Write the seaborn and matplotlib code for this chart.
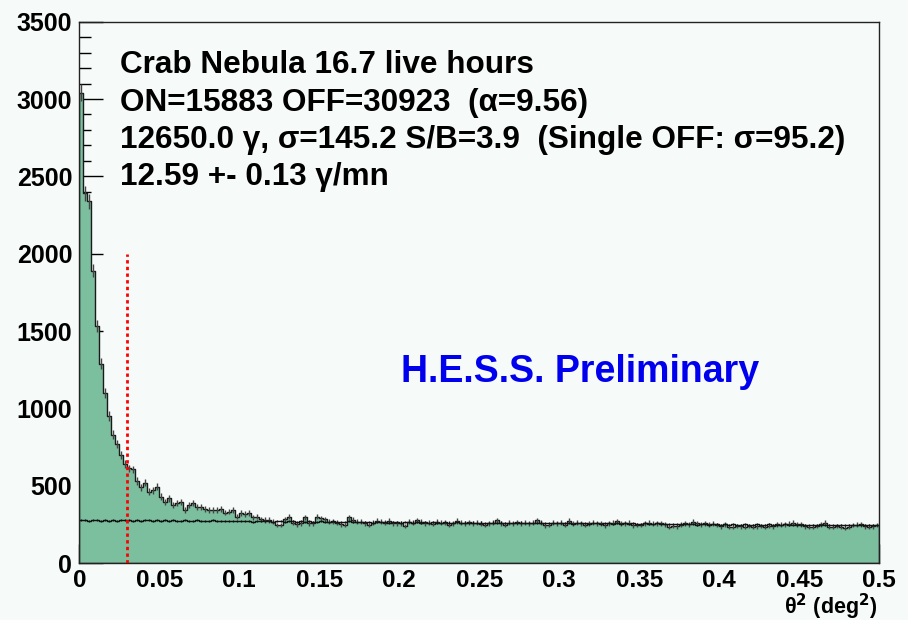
import numpy as np
import pandas as pd
import matplotlib
matplotlib.use("Agg")
import matplotlib.pyplot as plt
import seaborn as sns

# theta^2 binning: 200 bins of 0.0025 deg^2 from 0 to 0.5
bin_width = 0.0025
n_bins = 200

# ON-region counts per bin
on_counts = [
    3040, 2390, 2340, 1890, 1530, 1290, 1100, 950, 830, 770,
    700, 640, 612, 605, 530, 490, 520, 462, 470, 494,
    430, 396, 418, 376, 386, 396, 344, 376, 390, 365,
    365, 348, 344, 344, 344, 348, 326, 332, 344, 300,
    322, 317, 322, 295, 300, 283, 278, 278, 267, 246,
    246, 283, 300, 261, 252, 257, 295, 257, 257, 300,
    289, 283, 267, 267, 261, 252, 246, 295, 278, 267,
    267, 257, 246, 261, 274, 267, 261, 274, 257, 257,
    257, 239, 267, 262, 275, 268, 258, 262, 255, 266,
    260, 262, 248, 258, 272, 262, 256, 264, 258, 262,
    254, 246, 258, 262, 276, 258, 248, 262, 258, 264,
    256, 262, 258, 262, 276, 262, 244, 246, 260, 258,
    262, 248, 274, 258, 262, 256, 246, 258, 262, 256,
    258, 244, 256, 262, 270, 258, 256, 262, 244, 246,
    246, 258, 262, 254, 258, 256, 252, 236, 240, 238,
    248, 258, 252, 266, 256, 252, 258, 250, 254, 246,
    238, 252, 236, 234, 240, 238, 236, 240, 236, 238,
    240, 236, 242, 238, 250, 248, 252, 254, 262, 252,
    250, 238, 232, 236, 240, 252, 262, 236, 232, 240,
    236, 228, 236, 246, 248, 250, 238, 236, 238, 246,
]

# normalised OFF-region counts per bin
off_counts = [
    276, 280, 274, 278, 276, 272, 278, 274, 276, 272,
    278, 276, 280, 274, 276, 270, 276, 278, 274, 276,
    274, 276, 272, 276, 270, 274, 276, 272, 274, 276,
    270, 274, 272, 276, 274, 270, 272, 274, 270, 272,
    274, 270, 272, 268, 272, 270, 274, 270, 268, 272,
    270, 268, 272, 270, 266, 270, 268, 272, 268, 266,
    270, 268, 266, 270, 264, 268, 266, 270, 264, 268,
    266, 264, 268, 262, 266, 264, 268, 262, 264, 266,
    262, 266, 264, 262, 266, 262, 264, 260, 264, 262,
    260, 264, 262, 260, 264, 258, 262, 260, 262, 258,
    262, 258, 260, 262, 258, 262, 258, 260, 256, 260,
    262, 258, 260, 256, 260, 262, 258, 256, 260, 258,
    256, 260, 258, 254, 258, 256, 260, 254, 258, 256,
    254, 258, 256, 254, 258, 254, 256, 252, 256, 254,
    252, 256, 254, 252, 256, 252, 254, 250, 254, 252,
    250, 254, 250, 252, 248, 252, 250, 248, 252, 250,
    248, 250, 246, 250, 248, 246, 250, 248, 246, 250,
    246, 248, 250, 246, 248, 246, 250, 248, 246, 248,
    246, 248, 244, 248, 246, 244, 248, 246, 244, 248,
    246, 244, 246, 248, 244, 246, 244, 248, 246, 244,
]

theta2_cut = 0.03
cut_height = 2000

x_ticks = [0, 0.05, 0.1, 0.15, 0.2, 0.25, 0.3, 0.35, 0.4, 0.45, 0.5]
x_tick_labels = ["0", "0.05", "0.1", "0.15", "0.2", "0.25", "0.3", "0.35", "0.4", "0.45", "0.5"]
y_ticks = [0, 500, 1000, 1500, 2000, 2500, 3000, 3500]

info_lines = [
    "Crab Nebula 16.7 live hours",
    "ON=15883 OFF=30923  (\u03b1=9.56)",
    "12650.0 \u03b3, \u03c3=145.2 S/B=3.9  (Single OFF: \u03c3=95.2)",
    "12.59 +- 0.13 \u03b3/mn",
]

bg = "#f6faf8"
fill_green = "#7cbf9e"

sns.set_style("ticks")
plt.rcParams["font.family"] = ["Liberation Sans", "DejaVu Sans"]
plt.rcParams["font.weight"] = "bold"
plt.rcParams["xtick.color"] = "black"
plt.rcParams["ytick.color"] = "black"
plt.rcParams["xtick.labelcolor"] = "black"
plt.rcParams["ytick.labelcolor"] = "black"
plt.rcParams["text.color"] = "black"

edges = np.linspace(0, n_bins * bin_width, n_bins + 1)
centers = 0.5 * (edges[:-1] + edges[1:])
df = pd.DataFrame({"theta2": centers, "on": on_counts, "off": off_counts})

fig = plt.figure(figsize=(9.08, 6.2), dpi=100, facecolor=bg)
ax = fig.add_axes([0.0873, 0.0919, 0.8811, 0.8731], facecolor=bg)

# ON histogram: filled steps with sqrt(N) error ticks
sns.histplot(data=df, x="theta2", weights="on", binwidth=bin_width,
             binrange=(0, n_bins * bin_width), element="step",
             fill=True, color=fill_green, alpha=1.0, edgecolor="#1a1a1a",
             linewidth=1.0, ax=ax)
ax.errorbar(df["theta2"], df["on"], yerr=np.sqrt(df["on"]), fmt="none",
            ecolor="#444444", elinewidth=1.0, zorder=3)

# OFF histogram: open steps
sns.histplot(data=df, x="theta2", weights="off", binwidth=bin_width,
             binrange=(0, n_bins * bin_width), element="step",
             fill=False, color="#111111", linewidth=1.0, ax=ax)
ax.errorbar(df["theta2"], df["off"], yerr=0.4 * np.sqrt(df["off"]), fmt="none",
            ecolor="#111111", elinewidth=0.9, zorder=4)

# theta^2 cut
ax.plot([theta2_cut, theta2_cut], [0, cut_height], color="#ff0000",
        linestyle=(0, (1.2, 1.2)), linewidth=2.0, zorder=5)

ax.set_xlim(0, 0.5)
ax.set_ylim(0, 3500)
ax.set_xticks(x_ticks)
ax.set_xticklabels(x_tick_labels)
ax.set_yticks(y_ticks)
ax.set_xticks(np.arange(0, 0.5001, 0.01), minor=True)
ax.set_yticks(np.arange(0, 3501, 100), minor=True)
ax.set_xlabel("")
ax.set_ylabel("")

ax.tick_params(axis="y", which="major", direction="in", length=17, width=1,
               labelsize=18, pad=5, right=False, colors="black")
ax.tick_params(axis="y", which="minor", direction="in", length=8.6, width=1,
               right=False, colors="black")
ax.tick_params(axis="x", which="major", direction="in", length=13.7, width=1,
               labelsize=17.5, pad=4, top=False, colors="black")
ax.tick_params(axis="x", which="minor", direction="in", length=6.5, width=1,
               top=False, colors="black")

for s in ax.spines.values():
    s.set_visible(True)
    s.set_color("#222222")
    s.set_linewidth(1.0)

for i, line in enumerate(info_lines):
    fig.text(120 / 908, 1 - (73 + 37.5 * i) / 620, line, fontsize=22.7,
             fontweight="bold", color="black", ha="left", va="baseline")

fig.text(580 / 908, 1 - 382 / 620, "H.E.S.S. Preliminary", fontsize=27,
         fontweight="bold", color="#0000ee", ha="center", va="baseline")

fig.text(878 / 908, 1 - 614 / 620, "\u03b8$^{\\mathbf{2}}$ (deg$^{\\mathbf{2}}$)",
         fontsize=15.5, fontweight="bold", ha="right", va="baseline")

fig.savefig("out.png", dpi=100, facecolor=bg)
